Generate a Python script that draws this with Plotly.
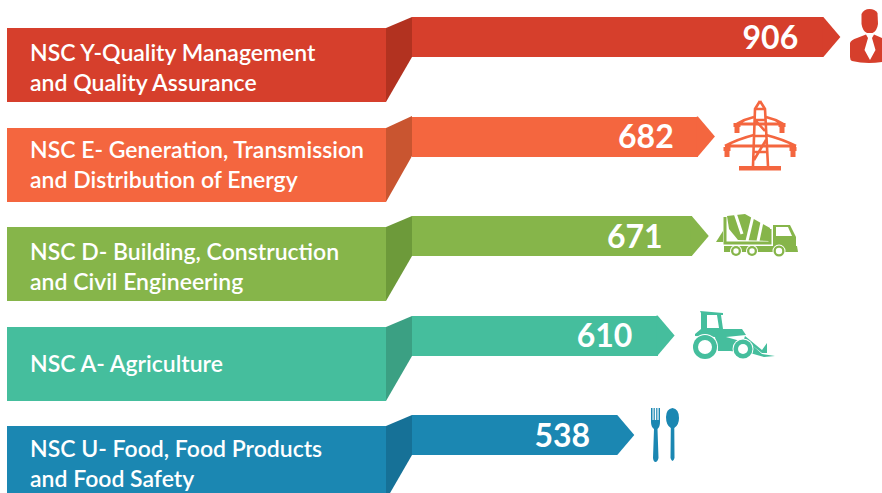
import plotly.graph_objects as go

# ---- data ----
categories = [
    "NSC Y-Quality Management<br>and Quality Assurance",
    "NSC E- Generation, Transmission<br>and Distribution of Energy",
    "NSC D- Building, Construction<br>and Civil Engineering",
    "NSC A- Agriculture",
    "NSC U- Food, Food Products<br>and Food Safety",
]
values = [906, 682, 671, 610, 538]
colors = ["#D63F2C", "#F4663F", "#86B54A", "#45BE9D", "#1B87B2"]
dark_colors = ["#B23220", "#C95530", "#6D9A3A", "#3BA083", "#167197"]

# ---- layout constants (pixels of the 882x493 canvas) ----
W, H = 882, 493
PX_PER_UNIT = 0.56
X_ZERO_PX = 333
Y0_PX, ROW_PX = 37, 99.5
BAR_PX = 40
BAR_START_PX = 412
TIP_PX = 17
base_val = (BAR_START_PX - X_ZERO_PX) / PX_PER_UNIT
tip_val = TIP_PX / PX_PER_UNIT
half = BAR_PX / ROW_PX / 2
label_offset = 70 / PX_PER_UNIT
label_nudge_px = [0, 1, -4, 0, -2]
label_drop = 3.5 / ROW_PX

fig = go.Figure()

# arrow tips (drawn first, slightly overlapped by the bar bodies)
for i, v in enumerate(values):
    fig.add_trace(go.Scatter(
        x=[v - tip_val - 2, v - tip_val, v, v - tip_val, v - tip_val - 2, v - tip_val - 2],
        y=[i - half, i - half, i, i + half, i + half, i - half],
        mode="lines", fill="toself", fillcolor=colors[i],
        line=dict(width=0, color=colors[i]),
        hoverinfo="skip", showlegend=False,
    ))
# bar bodies
fig.add_trace(go.Bar(
    y=list(range(len(values))),
    x=[v - base_val - tip_val for v in values],
    base=[base_val] * len(values),
    orientation="h", width=2 * half,
    marker=dict(color=colors, line=dict(width=0)),
    hoverinfo="skip", showlegend=False,
))
# value labels
fig.add_trace(go.Scatter(
    x=[v - label_offset + n / PX_PER_UNIT for v, n in zip(values, label_nudge_px)],
    y=[i + label_drop for i in range(len(values))],
    mode="text", text=[str(v) for v in values],
    textposition="middle center",
    textfont=dict(family="Lato", size=32, color="white", weight=700),
    hoverinfo="skip", showlegend=False,
))
# invisible trace keeps the pixel overlay axes alive
fig.add_trace(go.Scatter(x=[0], y=[0], xaxis="x2", yaxis="y2", mode="markers",
                         marker=dict(opacity=0), hoverinfo="skip", showlegend=False))

shapes = []


def poly(points, color):
    d = "M" + " L".join(f"{x},{y}" for x, y in points) + " Z"
    shapes.append(dict(type="path", path=d, xref="x2", yref="y2",
                       fillcolor=color, line=dict(width=0), layer="above"))


def stroke(d, color, w=2.5):
    shapes.append(dict(type="path", path=d, xref="x2", yref="y2",
                       line=dict(color=color, width=w), layer="above"))


def curve(d, color):
    shapes.append(dict(type="path", path=d, xref="x2", yref="y2",
                       fillcolor=color, line=dict(width=0), layer="above"))


def circle(cx, cy, r, color):
    shapes.append(dict(type="circle", x0=cx - r, x1=cx + r, y0=cy - r, y1=cy + r,
                       xref="x2", yref="y2", fillcolor=color,
                       line=dict(width=0), layer="above"))


# label boxes and folds
box_tops = [28, 128, 227, 327, 426]
box_bottoms = [102, 202, 301, 401, 500]
bar_tops = [17, 116, 216, 316, 415]
text_centers = [67, 164, 266, 363, 463]
for i in range(5):
    poly([(7, box_tops[i]), (386, box_tops[i]), (386, box_bottoms[i]), (7, box_bottoms[i])], colors[i])
    poly([(386, box_tops[i]), (412, bar_tops[i]), (412, bar_tops[i] + BAR_PX), (386, box_bottoms[i])], dark_colors[i])

# --- person icon
c = colors[0]
curve("M861.5,14 Q864,9 869.5,9 Q875,9 877.5,13 L878,24 Q877,31 872.5,33 L867,33 Q862.5,31 861.5,24 Z", c)
curve("M850,43 Q851,40 857,38 L866,34.5 L868,38 L864.5,50 L870,60 L875.5,50 L872,38 L874,34.5 L882,38 L882,62 "
      "Q866,64.5 852,61 Q850,60 850,57 Z", c)

# --- pylon icon
c = colors[1]
stroke("M760,101 L755,109 L753,166 M760,101 L765,109 L768,166 M755,109 L765,109 M754.5,120 L765.5,120 "
       "M754,136 L766,136 M753.5,152 L767,152 M755,120 L765,131 M766,140 L754,160", c, 2.6)
stroke("M737,124 Q745,119 754,117 M766,117 Q775,119 783,124 M737,124 L783,124", c, 2.8)
stroke("M725,146 Q738,139 754,135 M766,135 Q782,139 796,146 M725,146 L796,146", c, 2.8)
poly([(739, 166), (781, 166), (781, 170.5), (739, 170.5)], c)
for x, y0 in [(737, 123), (782, 123), (727, 147), (793, 147)]:
    poly([(x - 3.5, y0), (x + 3.5, y0), (x + 3.5, y0 + 4), (x + 2.5, y0 + 4), (x + 2.5, y0 + 10),
          (x - 2.5, y0 + 10), (x - 2.5, y0 + 4), (x - 3.5, y0 + 4)], c)

# --- mixer truck icon
c = colors[2]
poly([(727, 216), (745, 214), (770, 228), (769, 241), (738, 240), (729, 229)], c)
for d in ["M735,213 L742,234", "M753,216 L747,241", "M762,222 L758,241"]:
    stroke(d, "white", 3)
stroke("M725,217 L725,243 L770,243 L770,229", c, 3)
poly([(716, 242), (723, 231), (723, 242)], c)
poly([(724, 246), (797, 246), (798, 252), (724, 252)], c)
poly([(773, 225), (790, 225), (796, 237), (796, 250), (773, 250)], c)
poly([(776, 227), (788, 227), (792, 236), (776, 236)], "white")
for x, r in [(736, 6), (752, 6), (779, 6.5)]:
    circle(x, 251, r, "white")
    circle(x, 251, r - 1, c)
    circle(x, 251, r - 3.3, "white")

# --- tractor icon
c = colors[3]
poly([(700, 311), (723, 313), (723, 315), (721, 315), (723, 329), (742, 329), (746, 335),
      (726, 337), (744, 342), (752, 345), (762, 354), (775, 356), (764, 357), (750, 353),
      (730, 351), (718, 351), (715, 337), (695, 336), (695, 334), (701, 329), (701, 313)], c)
poly([(707, 315), (717, 315), (719, 328), (707, 328)], "white")
poly([(745, 336), (762, 350), (767, 343), (767, 353), (762, 353), (744, 339)], c)
circle(705, 347, 13, "white")
circle(705, 347, 12, c)
circle(705, 347, 7, "white")
circle(743, 349, 10.5, "white")
circle(743, 349, 9.5, c)
circle(743, 349, 5, "white")

# --- fork and spoon icon
c = colors[4]
curve("M651,408 L652.5,408 L652.5,420 L653.6,420 L653.6,408 L654.8,408 L654.8,420 L656.2,420 L656.2,408 "
      "L657.4,408 L657.4,420 L658.6,420 L658.6,408 L660,408 L660,422 Q660,427 657.5,429 L658.5,458 Q657.5,462 655.5,462 "
      "Q653.5,462 653,458 L654,429 Q651,427 651,422 Z", c)
curve("M672.5,408 Q679,409 679,418 Q679,425 674.3,428 L674.5,458 Q673.5,461 672.5,461 Q671.5,461 670.5,458 "
      "L670.8,428 Q666,425 666,417 Q666,409 672.5,408 Z", c)

# category labels
annotations = [
    dict(x=28, y=text_centers[i], xref="x2", yref="y2", text=categories[i],
         showarrow=False, xanchor="left", yanchor="middle", align="left",
         font=dict(family="Lato", size=23, color="white", weight=600))
    for i in range(5)
]

fig.update_layout(
    width=W, height=H,
    margin=dict(l=0, r=0, t=0, b=0),
    paper_bgcolor="white", plot_bgcolor="white",
    showlegend=False, bargap=0,
    xaxis=dict(range=[-X_ZERO_PX / PX_PER_UNIT, (W - X_ZERO_PX) / PX_PER_UNIT],
               visible=False, fixedrange=True),
    yaxis=dict(range=[(H - Y0_PX) / ROW_PX, -Y0_PX / ROW_PX],
               visible=False, fixedrange=True),
    xaxis2=dict(range=[0, W], overlaying="x", visible=False, fixedrange=True),
    yaxis2=dict(range=[H, 0], overlaying="y", visible=False, fixedrange=True),
    shapes=shapes, annotations=annotations,
)
fig.write_html("out.html", config=dict(displayModeBar=False),
               post_script="document.body.style.margin='0';document.body.style.overflow='hidden';")
